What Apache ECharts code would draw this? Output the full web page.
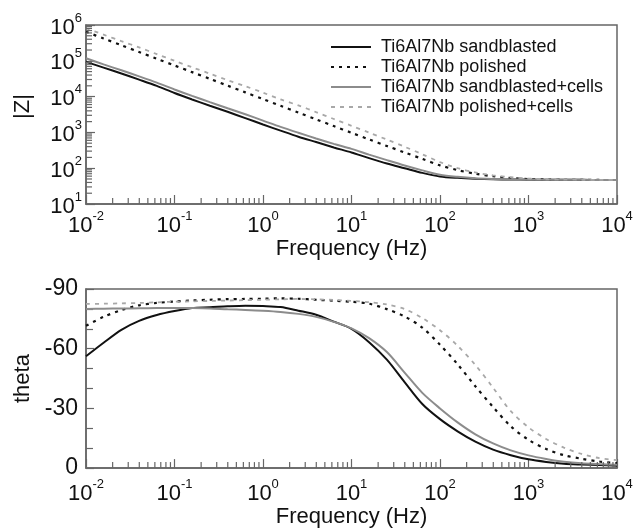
<!DOCTYPE html>
<html>
<head>
<meta charset="utf-8">
<script src="https://cdn.jsdelivr.net/npm/echarts@6/dist/echarts.min.js"></script>
<style>html,body{margin:0;padding:0;background:#fff}#c{width:640px;height:529px}</style>
</head>
<body>
<div id="c"></div>
<script>
// Frequencies (Hz)
const freq = [0.01,0.0158,0.0251,0.0398,0.0631,0.1,0.158,0.251,0.398,0.631,1,1.58,2.51,3.98,6.31,10,15.8,25.1,39.8,63.1,100,158,251,398,631,1000,1585,2512,3981,6310,10000];

// |Z| values
const zSand = [93300,64600,44200,29900,19950,12600,8320,5560,3760,2510,1660,1120,759,537,380,275,191,135,100,74,59,53.7,50.7,49,48.2,47.9,47.6,47.4,47.2,47,46.8];
const zPol = [645700,419800,272300,175800,114000,74100,48200,31300,20200,13100,8510,5530,3590,2320,1500,977,635,417,275,182,120,88.5,70,59.6,53.1,49.5,48.4,47.6,47.2,46.9,46.8];
const zSandCells = [117500,79400,54300,36700,24500,15850,10470,7000,4730,3200,2140,1430,977,676,479,347,240,168,119,87,66,57.5,52.5,50.1,48.6,47.9,47.6,47.4,47.2,47,46.8];
const zPolCells = [812800,537000,354800,236000,153800,100000,66100,43650,28840,19500,12900,8320,5690,3670,2370,1530,989,631,398,245,148,100,75.9,63.1,56.2,51.3,49,48.2,47.5,47.1,46.8];

// phase values (deg)
const thSand = [-56.2,-63,-69.5,-74,-76.9,-78.9,-80.4,-80.8,-81.3,-81.6,-81.4,-80.9,-79.1,-77.1,-73.6,-70,-63.3,-54.5,-43.2,-32.2,-24.6,-18.5,-13.3,-9.3,-6.5,-4.4,-3.1,-2.2,-1.8,-1.5,-1.2];
const thPol = [-71.5,-76,-79.4,-81.8,-83,-83.7,-84.2,-84.6,-84.9,-85,-85.1,-85.3,-85.1,-84.6,-84.1,-83.6,-82.6,-79.9,-76.2,-70.6,-62,-52.2,-41.1,-30.7,-21,-14.2,-9.6,-6.5,-4.7,-3.3,-2.5];
const thSandCells = [-80,-80.1,-80.2,-80.3,-80.4,-80.5,-80.4,-80.2,-79.8,-79.5,-79.1,-78.5,-77.5,-76,-73.5,-70.2,-65.3,-58.3,-48,-37.8,-30,-23,-17,-12.4,-8.9,-6.4,-4.6,-3.2,-2.4,-2,-1.7];
const thPolCells = [-82.5,-82.6,-82.8,-83,-83.3,-83.6,-83.8,-84,-84.2,-84.4,-84.6,-84.8,-85,-84.8,-84.5,-84,-83.4,-82.2,-79.9,-75.4,-69.3,-61.5,-51.8,-40.4,-28.6,-20.5,-14.6,-10.3,-7.1,-5,-4];

const seriesNames = ['Ti6Al7Nb sandblasted','Ti6Al7Nb polished','Ti6Al7Nb sandblasted+cells','Ti6Al7Nb polished+cells'];
const freqMin = 0.01, freqMax = 10000;
const zMin = 10, zMax = 1000000;
const thetaMin = -90, thetaMax = 0;

const FONT = 'Liberation Sans, Arial, sans-serif';
const AX = '#666';
const styles = [
  {color:'#111', width:2, type:'solid'},
  {color:'#111', width:2.2, type:[3,5]},
  {color:'#8c8c8c', width:2, type:'solid'},
  {color:'#a8a8a8', width:1.8, type:[4,5]}
];

const zip = (xs, ys) => xs.map((x,i)=>[x, ys[i]]);

const pow10Label = v => {
  const e = Math.round(Math.log10(v));
  return '{b|10}{s|' + e + '}';
};
const richLbl = {
  b:{fontSize:22, fontFamily:FONT, color:'#111', lineHeight:27, verticalAlign:'bottom'},
  s:{fontSize:13, fontFamily:FONT, color:'#111', lineHeight:13, verticalAlign:'top'}
};

function mkSeries(name, data, xi, st, leg){
  return {
    name: leg ? name : name + ' ',
    type:'line', xAxisIndex:xi, yAxisIndex:xi, data:data,
    symbol:'none', showSymbol:false, smooth:0.3, animation:false,
    lineStyle:{color:st.color, width:st.width, type:st.type},
    itemStyle:{color:st.color}
  };
}

const chart = echarts.init(document.getElementById('c'), null, {renderer:'canvas'});

const xAxisBase = (gi, margin, gap) => ({
  type:'log', logBase:10, gridIndex:gi, min:freqMin, max:freqMax, interval:1,
  axisLine:{show:true, lineStyle:{color:AX, width:1.5}},
  axisTick:{show:true, inside:true, length:9, lineStyle:{color:AX, width:1.2}},
  splitLine:{show:false}, minorTick:{show:false},
  axisLabel:{formatter:pow10Label, rich:richLbl, margin:margin, showMinLabel:true, showMaxLabel:true},
  name:'Frequency (Hz)', nameLocation:'middle', nameGap:gap,
  nameTextStyle:{fontSize:22, fontFamily:FONT, color:'#111'}
});

chart.setOption({
  animation:false,
  grid:[
    {left:86, right:23, top:25, height:179, show:true, borderColor:AX, borderWidth:1.5},
    {left:86, right:23, top:289, height:180, show:true, borderColor:AX, borderWidth:1.5}
  ],
  legend:{
    data:seriesNames, orient:'vertical', left:325, top:32,
    itemWidth:40, itemHeight:10, itemGap:0,
    itemStyle:{opacity:0, borderWidth:0},
    textStyle:{fontSize:18, fontFamily:FONT, color:'#111', lineHeight:20, padding:[0,0,0,5]}
  },
  xAxis:[ xAxisBase(0, 6, 34), xAxisBase(1, 10, 37) ],
  yAxis:[
    {type:'log', logBase:10, gridIndex:0, min:zMin, max:zMax, interval:1,
     axisLine:{show:true, lineStyle:{color:AX, width:1.5}},
     axisTick:{show:true, inside:true, length:9, lineStyle:{color:AX, width:1.2}},
     splitLine:{show:false},
     axisLabel:{formatter:pow10Label, rich:richLbl, margin:4, showMinLabel:true, showMaxLabel:true},
     name:'|Z|', nameLocation:'middle', nameGap:52,
     nameTextStyle:{fontSize:22, fontFamily:FONT, color:'#111', padding:[0,0,0,16]}},
    {type:'value', gridIndex:1, min:thetaMin, max:thetaMax, interval:30, inverse:true,
     axisLine:{show:true, lineStyle:{color:AX, width:1.5}},
     axisTick:{show:true, inside:true, length:8, lineStyle:{color:AX, width:1.2}},
     minorTick:{show:true, splitNumber:3, length:7, lineStyle:{color:AX, width:1.2}},
     splitLine:{show:false},
     axisLabel:{fontSize:23, fontFamily:FONT, color:'#111', margin:8},
     name:'theta', nameLocation:'middle', nameGap:50,
     nameTextStyle:{fontSize:22, fontFamily:FONT, color:'#111'}}
  ],
  series:[
    mkSeries(seriesNames[0], zip(freq, zSand), 0, styles[0], true),
    mkSeries(seriesNames[1], zip(freq, zPol), 0, styles[1], true),
    mkSeries(seriesNames[2], zip(freq, zSandCells), 0, styles[2], true),
    mkSeries(seriesNames[3], zip(freq, zPolCells), 0, styles[3], true),
    mkSeries(seriesNames[0], zip(freq, thSand), 1, styles[0], false),
    mkSeries(seriesNames[1], zip(freq, thPol), 1, styles[1], false),
    mkSeries(seriesNames[2], zip(freq, thSandCells), 1, styles[2], false),
    mkSeries(seriesNames[3], zip(freq, thPolCells), 1, styles[3], false)
  ]
});

// log-axis minor ticks (2..9 per decade) placed through the axes' own scales
const elems = [];
const tickStyle = {stroke:AX, lineWidth:1.2};
function addXMinor(gi, yVal){
  for (let k=-2; k<4; k++){
    for (let m=2; m<10; m++){
      const v = m*Math.pow(10,k);
      const p = chart.convertToPixel({xAxisIndex:gi, yAxisIndex:gi}, [v, yVal]);
      elems.push({type:'line', silent:true, shape:{x1:p[0], y1:p[1], x2:p[0], y2:p[1]-6}, style:tickStyle, z:5});
    }
  }
}
addXMinor(0, zMin);
addXMinor(1, thetaMax);
for (let k=1; k<6; k++){
  for (let m=2; m<10; m++){
    const v = m*Math.pow(10,k);
    const p = chart.convertToPixel({xAxisIndex:0, yAxisIndex:0}, [freqMin, v]);
    elems.push({type:'line', silent:true, shape:{x1:p[0], y1:p[1], x2:p[0]+6, y2:p[1]}, style:tickStyle, z:5});
  }
}
chart.setOption({graphic:elems});
</script>
</body>
</html>
